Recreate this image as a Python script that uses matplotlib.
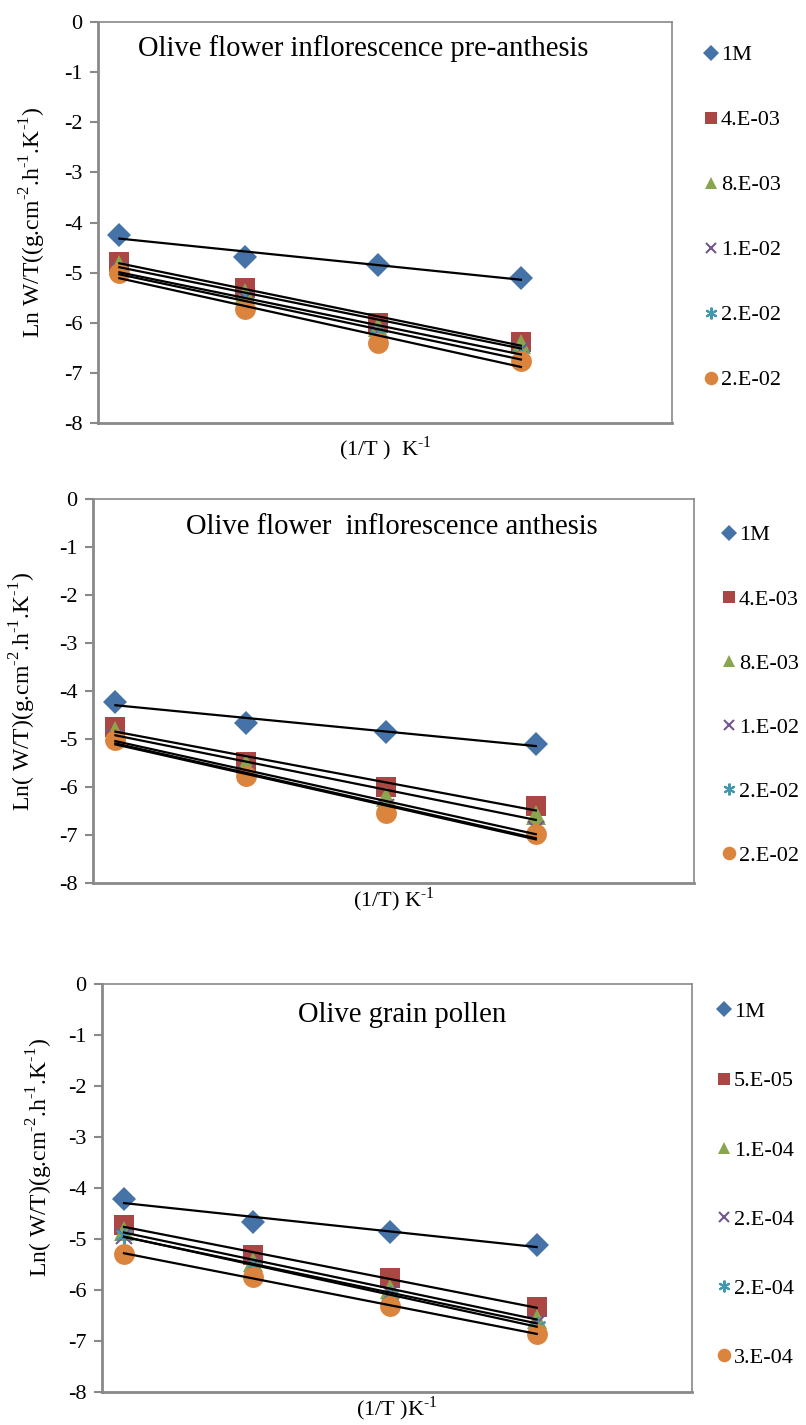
import matplotlib
matplotlib.use("Agg")
import matplotlib.pyplot as plt
import numpy as np

plt.rcParams['font.family'] = ['Liberation Serif', 'DejaVu Serif']
plt.rcParams['mathtext.fontset'] = 'custom'
plt.rcParams['mathtext.rm'] = 'Liberation Serif'

# Temperatures (K) -> x values 1/T
temps = np.array([318, 308, 298, 288])
inv_t = 1.0 / temps

# Panel 1: olive flower inflorescence pre-anthesis
pre_labels = ['1M', '4.E-03', '8.E-03', '1.E-02', '2.E-02', '2.E-02']
pre_values = [
    [-4.25, -4.68, -4.85, -5.11],
    [-4.78, -5.31, -6.00, -6.38],
    [-4.84, -5.40, -6.08, -6.42],
    [-4.95, -5.50, -6.18, -6.55],
    [-4.98, -5.58, -6.25, -6.65],
    [-5.01, -5.73, -6.41, -6.76],
]

# Panel 2: olive flower inflorescence anthesis
ant_labels = ['1M', '4.E-03', '8.E-03', '1.E-02', '2.E-02', '2.E-02']
ant_values = [
    [-4.22, -4.67, -4.85, -5.11],
    [-4.74, -5.47, -5.99, -6.40],
    [-4.84, -5.52, -6.20, -6.58],
    [-4.95, -5.72, -6.42, -6.88],
    [-4.98, -5.80, -6.50, -6.95],
    [-5.02, -5.78, -6.55, -6.97],
]

# Panel 3: olive grain pollen
pol_labels = ['1M', '5.E-05', '1.E-04', '2.E-04', '2.E-04', '3.E-04']
pol_values = [
    [-4.22, -4.67, -4.86, -5.12],
    [-4.73, -5.31, -5.77, -6.34],
    [-4.84, -5.45, -5.98, -6.56],
    [-4.95, -5.50, -6.05, -6.65],
    [-4.92, -5.55, -6.10, -6.70],
    [-5.29, -5.75, -6.31, -6.86],
]

titles = ['Olive flower inflorescence pre-anthesis',
          'Olive flower  inflorescence anthesis',
          'Olive grain pollen']
unit = r'(g.cm$^{\text{-}2}$.h$^{\text{-}1}$.K$^{\text{-}1}$)'
ylabels = ['Ln W/T(' + unit, 'Ln( W/T)' + unit, 'Ln( W/T)' + unit]
xlabels = [r'(1/T )  K$^{\text{-}1}$', r'(1/T) K$^{\text{-}1}$', r'(1/T )K$^{\text{-}1}$']

markers = ['D', 's', '^', 'x', (6, 2, 0), 'o']
colors = ['#4572A7', '#AA4643', '#89A54E', '#71588F', '#4198AF', '#DB843D']
sizes = [12, 14, 14, 12, 13, 15]

W, H = 806, 1425
fig = plt.figure(figsize=(W / 100, H / 100), dpi=100)

# axes boxes in pixels: left, top, right, bottom
boxes = [(98, 22, 672, 423), (93, 499, 694, 883), (102, 984, 692, 1392)]
title_pos = [(0.07, 0.935, 'left'), (0.155, 0.927, 'left'), (0.508, 0.924, 'center')]
ylabel_pos = [(-0.087, 0.5), (-0.0915, 0.5), (-0.0795, 0.576)]
xlabel_pad = [8, 2, 2]
legend_pos = [(1.031, 0.982), (1.023, 0.973), (1.018, 0.995)]
legend_gap = [2.0, 1.96, 2.19]

panels = [(pre_labels, pre_values), (ant_labels, ant_values), (pol_labels, pol_values)]

for i, (labels, values) in enumerate(panels):
    l, t, r, b = boxes[i]
    ax = fig.add_axes([l / W, 1 - b / H, (r - l) / W, (b - t) / H])
    handles = []
    for j, ys in enumerate(values):
        ys = np.array(ys)
        h, = ax.plot(inv_t, ys, linestyle='none', marker=markers[j], color=colors[j],
                     markersize=sizes[j], markeredgewidth=1.5 if j in (3, 4) else 0,
                     label=labels[j], zorder=2)
        handles.append(h)
    # linear trend lines
    for j, ys in enumerate(values):
        slope, icpt = np.polyfit(inv_t, ys, 1)
        xs = np.array([inv_t[0], inv_t[-1]])
        ax.plot(xs, slope * xs + icpt, color='black', lw=1.6, zorder=3)

    ax.set_xlim(0.0031272, 0.0035955)
    ax.set_ylim(-8, 0)
    ax.set_yticks(np.arange(-8, 1, 1))
    ax.set_yticklabels([str(v) for v in range(-8, 1)])
    ax.set_xticks([])
    ax.tick_params(axis='y', direction='out', length=6, width=1.5, color='#898989',
                   labelsize=16, pad=5)
    for side in ['left', 'bottom']:
        ax.spines[side].set_color('#898989')
        ax.spines[side].set_linewidth(2)
    for side in ['top', 'right']:
        ax.spines[side].set_color('#898989')
        ax.spines[side].set_linewidth(1.2)

    tx, ty, ha = title_pos[i]
    ax.text(tx, ty, titles[i], transform=ax.transAxes, ha=ha, va='center', fontsize=20.6)
    ax.set_ylabel(ylabels[i], fontsize=17)
    ax.yaxis.set_label_coords(*ylabel_pos[i])
    ax.set_xlabel(xlabels[i], fontsize=16, labelpad=xlabel_pad[i])

    ax.legend(handles=handles, loc='upper left', bbox_to_anchor=legend_pos[i],
              frameon=False, fontsize=16, markerscale=0.65, handlelength=0.5,
              handletextpad=0.2, labelspacing=legend_gap[i], borderaxespad=0.3)

fig.savefig('out.png', dpi=100)
